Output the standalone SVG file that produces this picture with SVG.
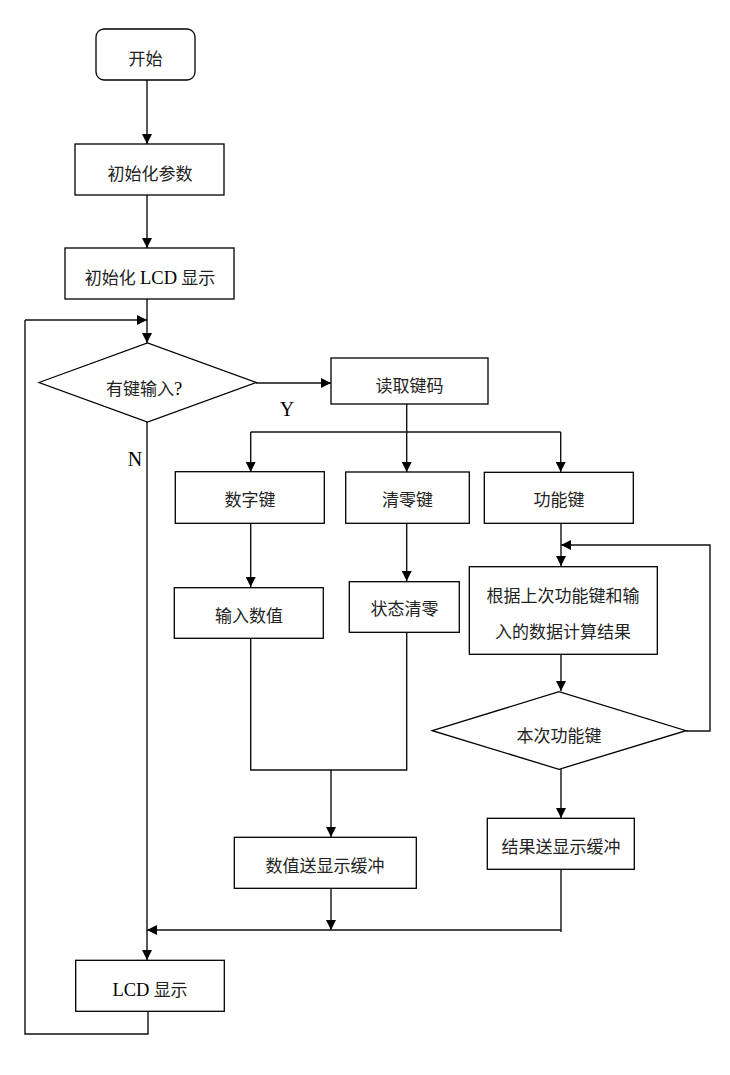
<svg xmlns="http://www.w3.org/2000/svg" width="730" height="1075" viewBox="0 0 730 1075">
<style>
.box{fill:#fff;stroke:#000;stroke-width:1.3}
.t{font-family:"Liberation Serif","Noto Sans CJK SC",serif;font-size:17px;fill:#222;text-anchor:middle;dominant-baseline:central}
.lat{font-size:18.5px;fill:#000}
.lbl{font-family:"Liberation Serif",serif;font-size:20px;fill:#000;text-anchor:middle;dominant-baseline:central}
.c{fill:none;stroke:#111;stroke-width:1.4}
</style>
<defs>
<marker id="ah" markerUnits="userSpaceOnUse" markerWidth="10" markerHeight="10" refX="10" refY="5" orient="auto">
<path d="M0,0 L10,5 L0,10 z" fill="#000"/>
</marker>
</defs>
<rect width="730" height="1075" fill="#fff"/>
<g id="connectors">
<path class="c" d="M147,80 V144" marker-end="url(#ah)"/>
<path class="c" d="M147,195 V248" marker-end="url(#ah)"/>
<path class="c" d="M147,299 V343" marker-end="url(#ah)"/>
<path class="c" d="M25,320 H147" marker-end="url(#ah)"/>
<path class="c" d="M256,383 H331" marker-end="url(#ah)"/>
<path class="c" d="M406.7,404 V472" marker-end="url(#ah)"/>
<path class="c" d="M250.7,432 H560.7"/>
<path class="c" d="M250.7,432 V472" marker-end="url(#ah)"/>
<path class="c" d="M560.7,432 V472" marker-end="url(#ah)"/>
<path class="c" d="M250.7,523 V587" marker-end="url(#ah)"/>
<path class="c" d="M406.7,523 V581" marker-end="url(#ah)"/>
<path class="c" d="M561,523 V566" marker-end="url(#ah)"/>
<path class="c" d="M686,731 H710 V545 H561" marker-end="url(#ah)"/>
<path class="c" d="M561,654 V691" marker-end="url(#ah)"/>
<path class="c" d="M561,769 V818" marker-end="url(#ah)"/>
<path class="c" d="M250.7,638 V770 H406.7 V632"/>
<path class="c" d="M331,770 V837" marker-end="url(#ah)"/>
<path class="c" d="M331,888 V930" marker-end="url(#ah)"/>
<path class="c" d="M561,869 V932"/>
<path class="c" d="M561,930 H147" marker-end="url(#ah)"/>
<path class="c" d="M147,422 V960" marker-end="url(#ah)"/>
<path class="c" d="M148,1011 V1034 H25 V320"/>
</g>
<g id="start"><rect class="box" x="96" y="29" width="99" height="51" rx="8"/><text class="t" x="145.5" y="59">开始</text></g>
<g id="init-params"><rect class="box" x="75" y="144" width="149" height="51"/><text class="t" x="150" y="174">初始化参数</text></g>
<g id="init-lcd"><rect class="box" x="65" y="248" width="169" height="51"/><text class="t" x="150" y="278">初始化 <tspan class="lat">LCD</tspan> 显示</text></g>
<g id="key-input"><polygon class="box" points="39,382.5 147.5,343 256,382.5 147.5,422"/><text class="t" x="144" y="389">有键输入<tspan class="lat">?</tspan></text></g>
<g id="read-key"><rect class="box" x="331" y="358" width="157" height="46"/><text class="t" x="409.5" y="386.5">读取键码</text></g>
<g id="digit-key"><rect class="box" x="175.3" y="471.7" width="149" height="51.6"/><text class="t" x="250" y="500">数字键</text></g>
<g id="clear-key"><rect class="box" x="345.7" y="472" width="123.6" height="51.3"/><text class="t" x="407.5" y="500">清零键</text></g>
<g id="func-key"><rect class="box" x="484.3" y="472.3" width="149" height="51"/><text class="t" x="559" y="500">功能键</text></g>
<g id="input-value"><rect class="box" x="174.3" y="587.7" width="149" height="50.6"/><text class="t" x="249" y="616.5">输入数值</text></g>
<g id="state-clear"><rect class="box" x="349.3" y="581.7" width="110" height="50.6"/><text class="t" x="404.5" y="609.5">状态清零</text></g>
<g id="compute"><rect class="box" x="469.3" y="566.7" width="188" height="87.6"/><text class="t" x="563" y="596.5">根据上次功能键和输</text><text class="t" x="563" y="632">入的数据计算结果</text></g>
<g id="this-func"><polygon class="box" points="432.3,730.7 559,691.7 686,730.7 559,769.3"/><text class="t" x="559" y="736.5">本次功能键</text></g>
<g id="value-buffer"><rect class="box" x="234.3" y="837.3" width="182" height="51"/><text class="t" x="325" y="866">数值送显示缓冲</text></g>
<g id="result-buffer"><rect class="box" x="487.3" y="818.3" width="147" height="51"/><text class="t" x="561" y="847.5">结果送显示缓冲</text></g>
<g id="lcd-display"><rect class="box" x="75.7" y="960.3" width="148.6" height="51"/><text class="t" x="150" y="990"><tspan class="lat">LCD</tspan> 显示</text></g>
<g id="labels"><text class="lbl" x="287" y="409">Y</text><text class="lbl" x="135" y="459">N</text></g>
</svg>
